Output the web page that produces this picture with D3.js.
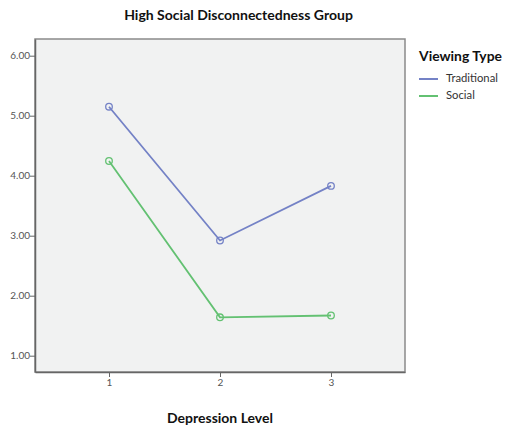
<!DOCTYPE html>
<html><head><meta charset="utf-8">
<script src="https://cdn.jsdelivr.net/npm/d3@7"></script>
<style>body{margin:0;background:#fff;} svg{display:block;}</style>
</head><body>
<script>
const categories = [1, 2, 3];
const traditional = [5.15, 2.92, 3.83];
const social = [4.245, 1.64, 1.67];
const yTicks = [1, 2, 3, 4, 5, 6];
const seriesNames = ["Traditional", "Social"];
const colors = ["#7482c6", "#63c172"];

const W = 505, H = 427;
const svg = d3.select("body").append("svg").attr("width", W).attr("height", H);
const L = 35, R = 405, T = 39, B = 372;
const x = d3.scaleLinear().domain([1/3, 11/3]).range([L, R]);
const y = d3.scaleLinear().domain([1 - 16.3/60, 1 + 316.7/60]).range([B, T]);

svg.append("rect").attr("x", L).attr("y", T).attr("width", R - L).attr("height", B - T)
  .attr("fill", "#f1f2f2").attr("stroke", "#8a8a8a").attr("stroke-width", 1.5);

const font = "Lato, 'Open Sans', sans-serif";
// y axis
const ya = svg.append("g").attr("transform", `translate(${L},0)`)
  .call(d3.axisLeft(y).tickValues(yTicks).tickFormat(d3.format(".2f")).tickSize(5).tickSizeOuter(0));
ya.select(".domain").attr("stroke", "#666").attr("stroke-width", 1.5);
ya.selectAll(".tick line").attr("stroke", "#666");
ya.selectAll(".tick text").attr("fill", "#555").attr("font-family", font).attr("font-size", 10).attr("x", -5);
// x axis
const xa = svg.append("g").attr("transform", `translate(0,${B})`)
  .call(d3.axisBottom(x).tickValues(categories).tickFormat(d3.format("d")).tickSize(5).tickSizeOuter(0));
xa.select(".domain").attr("stroke", "#666").attr("stroke-width", 1.5);
xa.selectAll(".tick line").attr("stroke", "#666");
xa.selectAll(".tick text").attr("fill", "#555").attr("font-family", font).attr("font-size", 10).attr("dy", "0.6em");

const line = d3.line().x((d, i) => x(categories[i])).y(d => y(d));
[traditional, social].forEach((s, k) => {
  svg.append("path").datum(s).attr("d", line).attr("fill", "none")
    .attr("stroke", colors[k]).attr("stroke-width", 1.8);
  svg.selectAll(null).data(s).enter().append("circle")
    .attr("cx", (d, i) => x(categories[i])).attr("cy", d => y(d)).attr("r", 3.3)
    .attr("fill", "none").attr("stroke", colors[k]).attr("stroke-width", 1.3);
});

function fitText(sel, target) {
  const w = sel.node().getComputedTextLength();
  const fs = parseFloat(sel.attr("font-size"));
  sel.attr("font-size", fs * target / w);
  return fs * target / w;
}
const title = svg.append("text").attr("x", 238.5).attr("y", 20).attr("text-anchor", "middle")
  .attr("font-family", font).attr("font-weight", "bold").attr("font-size", 13)
  .attr("fill", "#111").text("High Social Disconnectedness Group");
fitText(title, 229);

const xt = svg.append("text").attr("x", 220).attr("y", 423).attr("text-anchor", "middle")
  .attr("font-family", font).attr("font-weight", "bold").attr("font-size", 13)
  .attr("fill", "#111").text("Depression Level");
fitText(xt, 106);

const lt = svg.append("text").attr("x", 419).attr("y", 61)
  .attr("font-family", font).attr("font-weight", "bold").attr("font-size", 13)
  .attr("fill", "#111").text("Viewing Type");
fitText(lt, 83);

let legendFs = 10;
seriesNames.forEach((n, k) => {
  const yy = 79 + k * 17;
  svg.append("line").attr("x1", 419).attr("x2", 438).attr("y1", yy).attr("y2", yy)
    .attr("stroke", colors[k]).attr("stroke-width", 2);
  const t = svg.append("text").attr("x", 446).attr("y", yy - 1).attr("dy", "0.35em")
    .attr("font-family", font).attr("font-size", legendFs).attr("fill", "#333").text(n);
  if (k === 0) legendFs = fitText(t, 52);
});
</script>
</body></html>
